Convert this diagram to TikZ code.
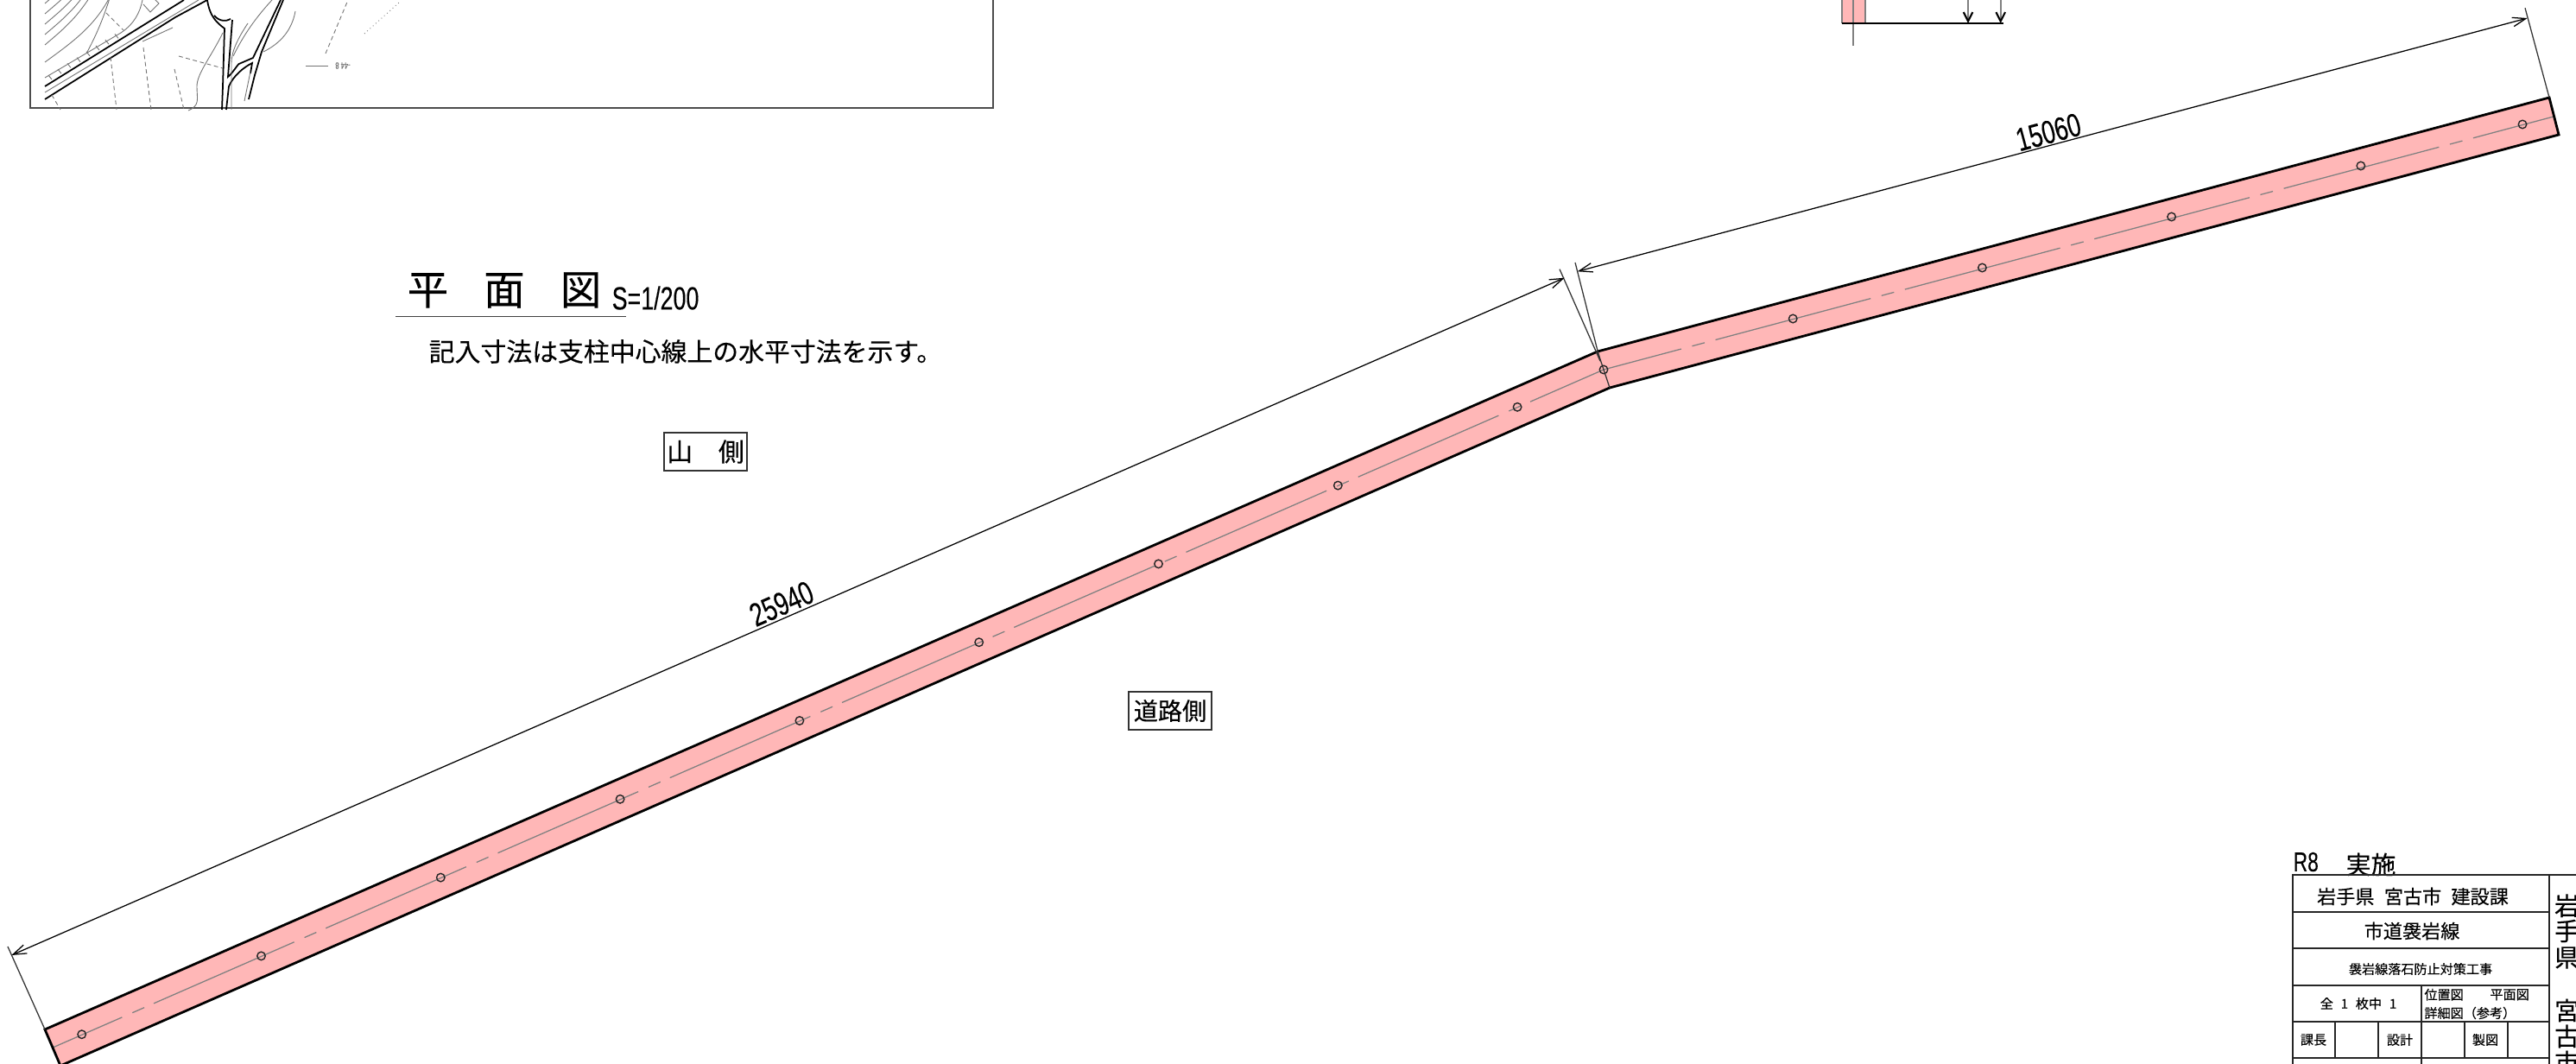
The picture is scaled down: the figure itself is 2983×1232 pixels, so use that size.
\documentclass[tikz,border=0pt]{standalone}
\usepackage{fontspec}
\setmainfont[FakeBold=0.25]{Noto Sans CJK JP}
\newfontfamily\narrowfont[FakeStretch=0.72,FakeBold=0.15]{Liberation Sans}
\usetikzlibrary{arrows.meta}
\definecolor{bandpink}{HTML}{FFB7B7}
\definecolor{mapgrey}{gray}{0.45}
\newcommand{\fsize}[1]{\fontsize{#1}{#1}\selectfont}
\tikzset{
  bandedge/.style={black,line width=0.8pt},
  centreline/.style={gray,line width=0.36pt},
  post/.style={circle,draw=black!85,line width=0.4pt,inner sep=0pt,minimum size=0.95mm,fill=none},
  dimline/.style={black,line width=0.36pt},
  extline/.style={black!80,line width=0.36pt},
  dimtip/.style={{Straight Barb[length=4.4pt,width=3pt]}-{Straight Barb[length=4.4pt,width=3pt]}},
  dimtext/.style={inner sep=0pt,font=\narrowfont\fsize{10.8}},
  tagbox/.style={draw=black!80,line width=0.4pt,inner sep=0pt,minimum width=9.6mm,minimum height=4.4mm},
  gridline/.style={black!85,line width=0.6pt},
  celltext/.style={inner sep=0pt},
  mapthin/.style={mapgrey,line width=0.25pt},
  mapdash/.style={mapgrey,line width=0.25pt,dash pattern=on 1.4pt off 1pt},
  mapthick/.style={black,line width=0.5pt},
}
\begin{document}
\begin{tikzpicture}[x=0.1mm,y=-0.1mm]
    \useasboundingbox (0,0) rectangle (2983,1232);
    \clip (0,0) rectangle (2983,1232);
    \fill[white] (0,0) rectangle (2983,1232);
    % location map
    \draw[black!70,line width=0.55pt] (35,-5) -- (35,125) -- (1150,125) -- (1150,-5);
    \draw[mapthick] (52,100) -- (213,0);
    \draw[mapthick] (52,115) -- (203,20) -- (240,0);
    \draw[mapthin] (52,107) -- (230,0);
    \draw[mapthick] (240,0) .. controls (243,20) and (252,27) .. (260,33) -- (258,100) -- (257,127);
    \draw[mapthick] (248,18) .. controls (254,25) and (262,25) .. (267,22);
    \draw[mapthick] (269,23) -- (264,89) .. controls (272,82) and (276,72) .. (279,73) -- (293,67) -- (325,0);
    \draw[mapthick] (262,127) -- (265,100) .. controls (270,88) and (282,78) .. (292,73) -- (290,85);
    \draw[mapthick] (288,115) -- (295,87) -- (303,60) -- (328,0);
    \foreach \s in {0,12,24,36,48} {
      \draw[mapthin] (52,{52-\s}) .. controls (72,{35-\s}) and (88,{22-\s}) .. (105,{-5-\s});
    }
    \draw[mapthin] (52,72) .. controls (85,48) and (110,30) .. (128,-5);
    \draw[mapthin] (100,62) .. controls (112,40) and (120,20) .. (127,-2);
    \draw[mapthin] (52,90) -- (140,38);
    \foreach \k in {0,...,7} {
      \draw[mapthin] ({56+11*\k},{87-6.8*\k}) -- ({60+11*\k},{92-6.8*\k});
    }
    \draw[mapthin] (166,5) -- (174,14) -- (184,4) -- (177,-3);
    \draw[mapdash] (123,15) -- (143,35);
    \draw[mapthin] (140,38) .. controls (155,28) and (162,15) .. (165,0);
    \draw[mapthin] (165,48) -- (200,32);
    \draw[mapthin] (270,65) .. controls (280,45) and (292,25) .. (315,0);
    \draw[mapthin] (305,60) .. controls (325,50) and (338,35) .. (342,13);
    \draw[mapthin,densely dotted] (422,39) -- (462,3);
    \draw[mapdash] (377,62) -- (403,0);
    \draw[mapdash] (128,66) -- (135,127);
    \draw[mapdash] (166,55) -- (175,127);
    \draw[mapdash] (202,80) -- (213,127);
    \draw[mapdash] (207,65) -- (258,79);
    \draw[mapdash] (60,110) -- (70,127);
    \draw[mapthin] (258,38) .. controls (245,65) and (228,85) .. (228,100) .. controls (228,115) and (232,122) .. (218,128);
    \draw[mapthin] (287,27) .. controls (275,45) and (268,60) .. (268,73) -- (268,127);
    \draw[mapthin] (283,117) -- (290,83);
    \draw[mapthin] (354,76) -- (380,76);
    \node[mapgrey,inner sep=0pt,rotate=180,font=\narrowfont\fsize{3}] (maplevel) at (397,76) {-44 8};
    % top section stub
    \coordinate (stubtop) at (2146,-5);
    \coordinate (stubend) at (2146,53);
    \fill[bandpink] (2133,-5) rectangle (2160,27);
    \draw[gray,line width=0.6pt] (2133,-5) -- (2133,27);
    \draw[gray,line width=0.6pt] (2160,-5) -- (2160,27);
    \draw[gray,line width=0.6pt] (stubtop) -- (stubend);
    \draw[black,line width=0.6pt] (2133,27) -- (2279,27);
    \draw[black,line width=0.36pt] (2279,27) -- (2320,27);
    \draw[gray,line width=0.6pt,-{Straight Barb[black,length=3pt,width=3pt]}] (2279,-5) -- (2279,27);
    \draw[gray,line width=0.6pt,-{Straight Barb[black,length=3pt,width=3pt]}] (2316.7,-5) -- (2316.7,27);
    % band
    \coordinate (lefttop) at (52,1192);
    \coordinate (leftbot) at (70,1234);
    \coordinate (kinktop) at (1850,407);
    \coordinate (kinkbot) at (1864,449);
    \coordinate (righttop) at (2952,113);
    \coordinate (rightbot) at (2963,156);
    \fill[bandpink] (lefttop) -- (kinktop) -- (righttop) -- (rightbot) -- (kinkbot) -- (leftbot) -- cycle;
    \draw[centreline,dash pattern=on 50.5pt off 3.7pt on 4.27pt off 3.4pt,dash phase=25.75pt] (61.7,1212.7) -- (1857,428);
    \draw[centreline,dash pattern=on 52.92pt off 3.7pt on 4.27pt off 3.7pt,dash phase=26.46pt] (1857,428) -- (2957,135);
    \draw[bandedge] (lefttop) -- (kinktop) -- (righttop) -- (rightbot) -- (kinkbot) -- (leftbot) -- cycle;
    \draw[black!80,line width=0.36pt] (kinktop) -- (kinkbot);
    \foreach \k in {0,...,8} {
      \node[post] (postl\k) at ({94.7+207.8*\k},{1197.7-90.8*\k}) {};
    }
    \node[post] (postkink) at (1857,428) {};
    \foreach \k in {1,...,4} {
      \node[post] (postr\k) at ({1857+219.2*\k},{428-59*\k}) {};
    }
    \node[post] (postend) at (2921,144) {};
    % dimensions
    \coordinate (extla) at (9,1096);
    \coordinate (tipla) at (13.3,1106);
    \coordinate (extlb) at (1806,311.7);
    \coordinate (tiplb) at (1811.7,321.7);
    \coordinate (extra) at (1824,304);
    \coordinate (tipra) at (1826.7,314.3);
    \coordinate (extrb) at (2924,9.3);
    \coordinate (tiprb) at (2926.7,21);
    \coordinate (kinkfoot) at (1853,418);
    \draw[extline] (extla) -- (lefttop);
    \draw[extline] (extlb) -- (kinkfoot);
    \draw[extline] (extra) -- (kinkfoot);
    \draw[extline] (extrb) -- (righttop);
    \draw[dimline,dimtip] (tipla) -- (tiplb);
    \draw[dimline,dimtip] (tipra) -- (tiprb);
    \node[dimtext,rotate=23.6] (dimleft) at (905,699) {25940};
    \node[dimtext,rotate=15] (dimright) at (2372,153) {15060};
    % titles
    \node[inner sep=0pt,font=\fsize{13.5}] (title) at (584,336) {平\hspace{11.7pt}面\hspace{11.7pt}図};
    \node[inner sep=0pt,anchor=west,font=\narrowfont\fsize{10.6}] (scale) at (708,345) {S=1/200};
    \draw[black!75,line width=0.45pt] (458,366.6) -- (725,366.6);
    \node[inner sep=0pt,anchor=west,font=\fsize{8.5}] (note) at (496,407) {記入寸法は支柱中心線上の水平寸法を示す。};
    \node[tagbox,font=\fsize{8.5}] (mountain) at (817,523) {山\hspace{8.5pt}側};
    \node[tagbox,font=\fsize{8}] (road) at (1355,823) {道路側};
    % title block
    \node[inner sep=0pt,anchor=west,font=\narrowfont\fsize{9}] (year) at (2655,998) {R8};
    \node[inner sep=0pt,anchor=west,font=\fsize{8.2}] (done) at (2716,1001) {実施};
    \draw[gridline] (2655,1232) -- (2655,1013.3) -- (2990,1013.3);
    \draw[gridline] (2952,1013.3) -- (2952,1232);
    \foreach \y in {1056,1098.3,1140.7,1183,1225.3} {
      \draw[gridline] (2655,\y) -- (2952,\y);
    }
    \draw[gridline] (2804,1140.7) -- (2804,1183);
    \draw[gridline] (2804,1225.3) -- (2804,1232);
    \foreach \x in {2703.7,2754,2804,2854.3,2904.3} {
      \draw[gridline] (\x,1183) -- (\x,1225.3);
    }
    \node[celltext,font=\fsize{6.3}] (office) at (2794,1038) {岩手県\hspace{3.2pt}宮古市\hspace{3.2pt}建設課};
    \node[celltext,font=\fsize{6.3}] (route) at (2793,1078) {市道袰岩線};
    \node[celltext,font=\fsize{4.3}] (work) at (2803,1122) {袰岩線落石防止対策工事};
    \node[celltext,font=\fsize{4.3}] (sheets) at (2731,1162) {全\hspace{2.5pt}1\hspace{2.5pt}枚中\hspace{2.5pt}1};
    \node[celltext,anchor=west,font=\fsize{4.3}] (kinda) at (2806.7,1151.7) {位置図};
    \node[celltext,anchor=west,font=\fsize{4.3}] (kindb) at (2882.7,1151.7) {平面図};
    \node[celltext,anchor=west,font=\fsize{4.3}] (kindc) at (2806.7,1173) {詳細図（参考）};
    \node[celltext,font=\fsize{4.3}] (chief) at (2679,1204) {課長};
    \node[celltext,font=\fsize{4.3}] (design) at (2779,1204) {設計};
    \node[celltext,font=\fsize{4.3}] (drawing) at (2878,1204) {製図};
    \foreach \t/\y/\n in {岩/1048.7/a,手/1078/b,県/1109/c,宮/1170/d,古/1200/e,市/1230/f} {
      \node[celltext,font=\fsize{8.2}] (side\n) at (2972.5,\y) {\t};
    }
\end{tikzpicture}
\end{document}
